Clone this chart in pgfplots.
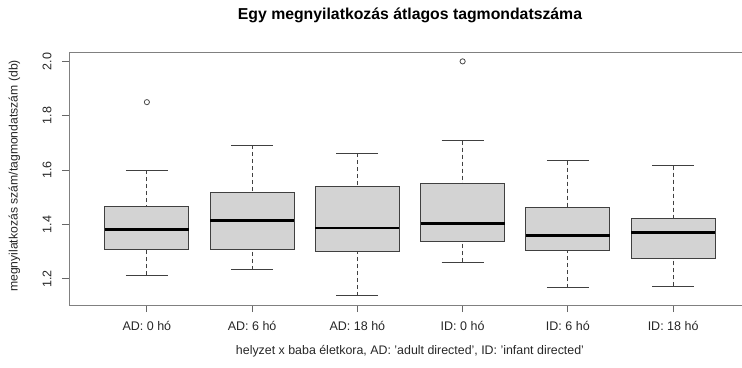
\documentclass[border=0pt]{standalone}
\usepackage{fontspec}
\setmainfont{Liberation Sans}
\usepackage{pgfplots}
\pgfplotsset{compat=1.18}
\usepgfplotslibrary{statistics}
\definecolor{boxfill}{HTML}{D3D3D3}
\definecolor{framec}{HTML}{808080}
\definecolor{txt}{HTML}{262626}
\pgfplotsset{
  rbox/.style={
    draw=black!75, fill=boxfill, line width=1bp,
    mark=o, mark size=2.6bp, mark options={draw=black!70, fill=none, line width=0.8bp, solid}
  },
}
\begin{document}
\begin{tikzpicture}
\begin{axis}[
  at={(69bp,63bp)}, anchor=south west,
  scale only axis, width=682bp, height=253bp,
  xmin=0.26, xmax=6.74, ymin=1.1035, ymax=2.0345,
  xtick={1,2,3,4,5,6},
  xticklabels={AD: 0 hó, AD: 6 hó, AD: 18 hó, ID: 0 hó, ID: 6 hó, ID: 18 hó},
  ytick={1.2,1.4,1.6,1.8,2.0},
  yticklabels={1.2,1.4,1.6,1.8,2.0},
  /pgf/number format/assume math mode=true,
  tick align=outside, major tick length=7bp,
  xtick pos=bottom, ytick pos=left,
  tick style={draw=black!60, line width=0.8bp},
  axis line style={draw=framec, line width=1bp},
  ticklabel style={font=\fontsize{12.5bp}{14bp}\selectfont, text=txt},
  xticklabel style={yshift=-6bp},
  yticklabel style={xshift=-7bp, rotate=90, anchor=south},
  every axis title shift=0pt,
  title={Egy megnyilatkozás átlagos tagmondatszáma},
  title style={at={(axis description cs:0.5,1.146)}, anchor=center, font=\bfseries\fontsize{15.8bp}{18bp}\selectfont, text=black},
  xlabel={helyzet x baba életkora, AD: 'adult directed', ID: 'infant directed'},
  xlabel style={at={(axis description cs:0.5,-0.1818)}, anchor=center, font=\fontsize{12.4bp}{14bp}\selectfont, text=txt},
  ylabel={megnyilatkozás szám/tagmondatszám (db)},
  ylabel style={at={(axis description cs:-0.0800,0.51)}, anchor=center, font=\fontsize{12.2bp}{14bp}\selectfont, text=txt},
  clip=false,
  boxplot/draw direction=y,
  boxplot/every median/.style={draw=black, line width=2.6bp},
  boxplot/draw/lower whisker/.code={%
    \draw[draw=black!75, line width=1bp, dash pattern=on 4bp off 3bp]
      (boxplot box cs:\pgfplotsboxplotvalue{lower whisker},0.5) -- (boxplot box cs:\pgfplotsboxplotvalue{lower quartile},0.5);
    \draw[draw=black!75, line width=1bp]
      (boxplot whisker cs:\pgfplotsboxplotvalue{lower whisker},0) -- (boxplot whisker cs:\pgfplotsboxplotvalue{lower whisker},1);
  },
  boxplot/draw/upper whisker/.code={%
    \draw[draw=black!75, line width=1bp, dash pattern=on 4bp off 3bp]
      (boxplot box cs:\pgfplotsboxplotvalue{upper whisker},0.5) -- (boxplot box cs:\pgfplotsboxplotvalue{upper quartile},0.5);
    \draw[draw=black!75, line width=1bp]
      (boxplot whisker cs:\pgfplotsboxplotvalue{upper whisker},0) -- (boxplot whisker cs:\pgfplotsboxplotvalue{upper whisker},1);
  },
]
\addplot[rbox, boxplot prepared={draw position=1, lower whisker=1.213, lower quartile=1.306, median=1.382, upper quartile=1.465, upper whisker=1.599, box extend=0.8, whisker extend=0.4}]
  table[row sep=\\, y index=0] {1.850\\};
\addplot[rbox, boxplot prepared={draw position=2, lower whisker=1.233, lower quartile=1.306, median=1.415, upper quartile=1.516, upper whisker=1.692, box extend=0.8, whisker extend=0.4}]
  coordinates {};
\addplot[rbox, boxplot prepared={draw position=3, lower whisker=1.138, lower quartile=1.300, median=1.387, upper quartile=1.541, upper whisker=1.662, box extend=0.8, whisker extend=0.4}]
  coordinates {};
\addplot[rbox, boxplot prepared={draw position=4, lower whisker=1.261, lower quartile=1.337, median=1.404, upper quartile=1.550, upper whisker=1.708, box extend=0.8, whisker extend=0.4}]
  table[row sep=\\, y index=0] {2.000\\};
\addplot[rbox, boxplot prepared={draw position=5, lower whisker=1.167, lower quartile=1.304, median=1.359, upper quartile=1.461, upper whisker=1.635, box extend=0.8, whisker extend=0.4}]
  coordinates {};
\addplot[rbox, boxplot prepared={draw position=6, lower whisker=1.172, lower quartile=1.275, median=1.370, upper quartile=1.421, upper whisker=1.616, box extend=0.8, whisker extend=0.4}]
  coordinates {};
\end{axis}
\pgfresetboundingbox
\useasboundingbox (0,0) rectangle (742bp,368bp);
\end{tikzpicture}
\end{document}
